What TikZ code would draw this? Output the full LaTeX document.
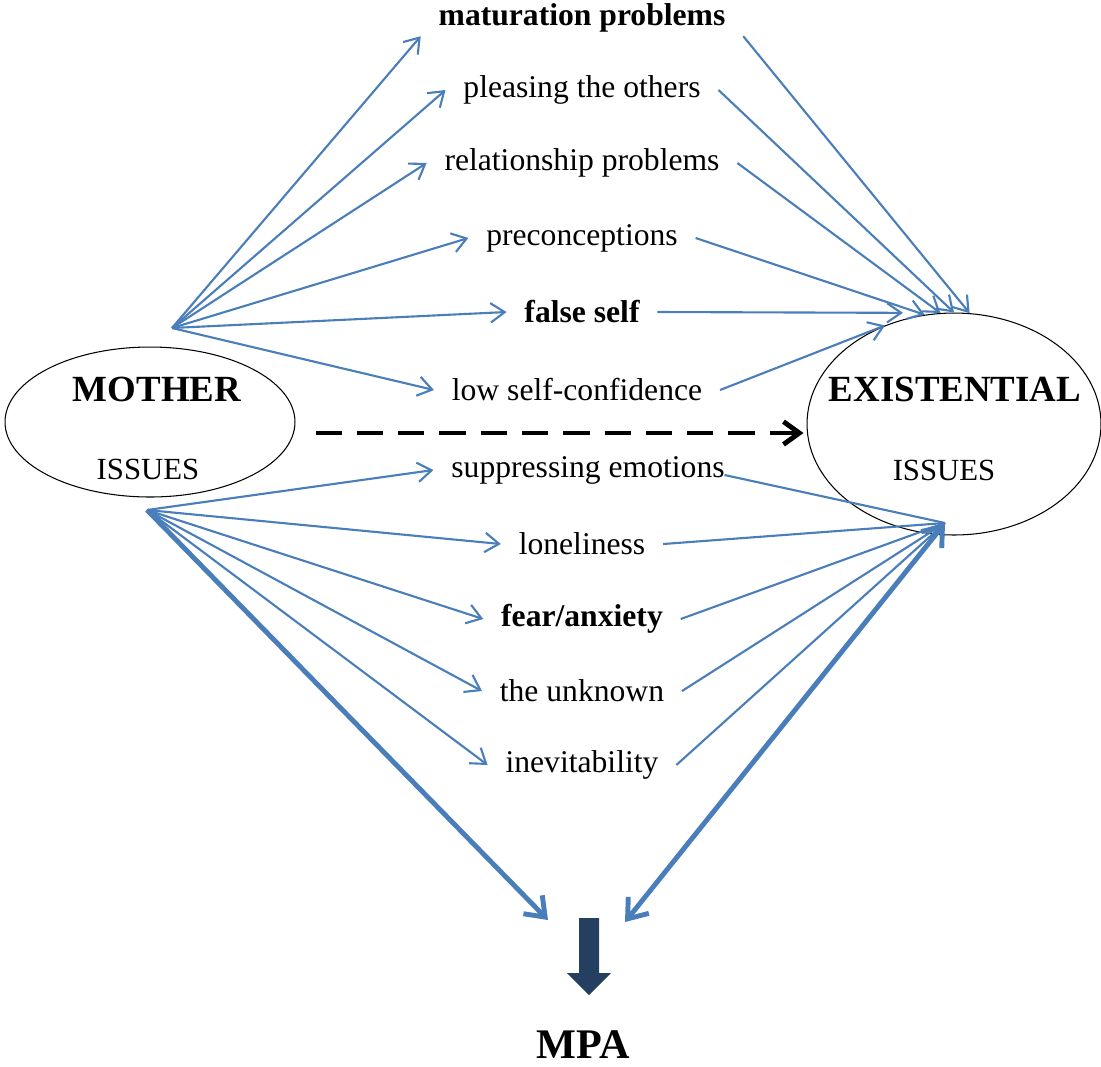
\documentclass[tikz,border=0pt]{standalone}
\usepackage{fontspec}
\setmainfont{Liberation Serif}
\usetikzlibrary{arrows.meta,shapes.geometric}
\definecolor{blu}{RGB}{74,126,187}
\definecolor{navy}{RGB}{36,63,96}

\begin{document}
\begin{tikzpicture}[x=0.02cm,y=-0.02cm,
  lab/.style={inner xsep=10pt,inner ysep=2pt,font=\fontsize{18}{20}\selectfont},
  blab/.style={lab,font=\fontsize{18}{20}\selectfont\bfseries},
  arr/.style={draw=blu,line width=1.2pt,-{Straight Barb[length=8pt,width=11pt]}},
  ln/.style={draw=blu,line width=1.2pt},
  fat/.style={draw=blu,line width=2.8pt,-{Straight Barb[length=10pt,width=15pt]}},
  fatt/.style={draw=blu,line width=2.8pt,{Straight Barb[length=10pt,width=15pt]}-{Straight Barb[length=10pt,width=15pt]}}]
  \useasboundingbox (0,0) rectangle (1101,1066);
  \draw(150,422) node[ellipse,draw,line width=0.6pt,minimum width=5.8cm,minimum height=3cm] (M) {};
  \draw(954,424) node[ellipse,draw,line width=0.6pt,minimum width=5.88cm,minimum height=4.44cm] (E) {};
  \node[font=\fontsize{21}{24}\selectfont\bfseries] (Mt) at (157,389) {MOTHER};
  \node[font=\fontsize{17.5}{20}\selectfont] (Mi) at (148,469) {ISSUES};
  \node[font=\fontsize{21}{24}\selectfont\bfseries] (Et) at (955,389) {EXISTENTIAL};
  \node[font=\fontsize{17.5}{20}\selectfont] (Ei) at (944,470) {ISSUES};

  \node[blab] (m1) at (582,18) {maturation problems};
  \node[lab] (m2) at (582,90) {pleasing the others};
  \node[lab] (m3) at (582,163) {relationship problems};
  \node[lab] (m4) at (582,238) {preconceptions};
  \node[blab] (m5) at (582,312) {false self};
  \node[lab] (m6) at (577,390) {low self-confidence};
  \node[lab] (n1) at (588,470) {suppressing emotions};
  \node[lab] (n2) at (582,544) {loneliness};
  \node[blab] (n3) at (582,619) {fear/anxiety};
  \node[lab] (n4) at (582,691) {the unknown};
  \node[lab] (n5) at (582,765) {inevitability};

  \coordinate (s1) at (172,328);
  \coordinate (s2) at (147,510);
  \coordinate (t2) at (945,523);
  \coordinate (p1) at (548,920);
  \coordinate (p2) at (625,922);

  \draw[arr] (s1) -- (m1.south west);
  \draw[arr] (s1) -- (m2.west);
  \draw[arr] (s1) -- (m3.west);
  \draw[arr] (s1) -- (m4.west);
  \draw[arr] (s1) -- (m5.west);
  \draw[arr] (s1) -- (m6.west);
  \draw[arr] (m1.south east) -- (E.82);
  \draw[arr] (m2.east) -- (E.90);
  \draw[arr] (m3.east) -- (E.97);
  \draw[arr] (m4.east) -- (E.105);
  \draw[arr] (m5.east) -- ([shift={(-2,-6)}]E.115);
  \draw[arr] (m6.east) -- (E.125);

  \draw[arr] (s2) -- (n1.west);
  \draw[arr] (s2) -- (n2.west);
  \draw[arr] (s2) -- (n3.west);
  \draw[arr] (s2) -- (n4.west);
  \draw[arr] (s2) -- (n5.west);
  \draw[ln] ([shift={(-18,5)}]n1.east) -- (t2);
  \draw[ln] (n2.east) -- (t2);
  \draw[ln] (n3.east) -- (t2);
  \draw[ln] (n4.east) -- (t2);
  \draw[ln] (n5.east) -- (t2);
  \draw[fat] (s2) -- (p1);
  \draw[fatt] (p2) -- (t2);

  \draw[black,line width=2.8pt,dash pattern=on 15pt off 8.5pt,-{Straight Barb[length=9pt,width=13pt]}] ([shift={(20,11)}]M.east) -- ([shift={(-3,9)}]E.west);

  \fill[navy] (579,918) -- (599,918) -- (599,973) -- (611,973) -- (589,995) -- (567,973) -- (579,973) -- cycle;
  \node[inner sep=0pt,font=\fontsize{24}{26}\selectfont\bfseries] (mpa) at (583,1045) {MPA};
\end{tikzpicture}
\end{document}
